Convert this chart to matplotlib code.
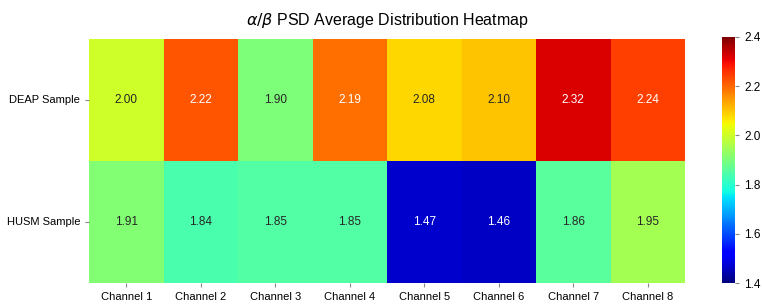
import numpy as np
import pandas as pd
import matplotlib
matplotlib.use("Agg")
import matplotlib.pyplot as plt
import seaborn as sns

# values
channels = ['Channel 1', 'Channel 2', 'Channel 3', 'Channel 4',
            'Channel 5', 'Channel 6', 'Channel 7', 'Channel 8']
samples = ['DEAP Sample', 'HUSM Sample']
deap_vals = [2.00, 2.22, 1.90, 2.19, 2.08, 2.10, 2.32, 2.24]
husm_vals = [1.91, 1.84, 1.85, 1.85, 1.47, 1.46, 1.86, 1.95]

df = pd.DataFrame([deap_vals, husm_vals], index=samples, columns=channels)

plt.rcParams['font.family'] = ['Liberation Sans', 'DejaVu Sans']
plt.rcParams['mathtext.fontset'] = 'dejavusans'

fig = plt.figure(figsize=(7.62, 3.04), dpi=100)
ax = fig.add_axes([0.117, 0.069, 0.782, 0.803])
cax = fig.add_axes([0.948, 0.069, 0.017, 0.810])

sns.heatmap(df, ax=ax, cbar_ax=cax, cmap='jet', vmin=1.4, vmax=2.4,
            annot=True, fmt='.2f', annot_kws={'fontsize': 8.5})

ax.set_title(r'$\alpha/\beta$ PSD Average Distribution Heatmap', fontsize=11.5, pad=10)
ax.tick_params(axis='both', labelsize=8, color='#888888', length=3)
ax.set_yticklabels(samples, rotation=0)
ax.set_xticklabels(channels, rotation=0)
cax.tick_params(labelsize=8.5, color='#888888', length=3)
cax.set_yticks([1.4, 1.6, 1.8, 2.0, 2.2, 2.4])

fig.savefig('out.png', dpi=100)
